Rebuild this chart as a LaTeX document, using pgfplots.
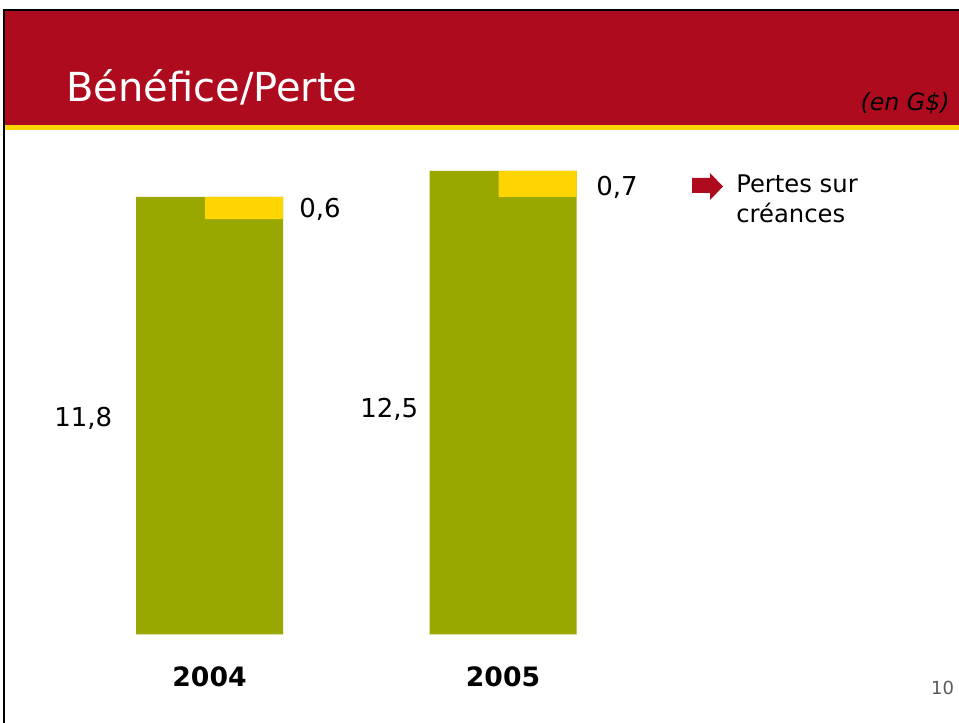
\documentclass[border=0pt]{standalone}
\usepackage{pgfplots}
\pgfplotsset{compat=1.18}
\usepackage{fontspec}
\setmainfont{DejaVu Sans}
\definecolor{hdrred}{RGB}{174,12,30}
\definecolor{hdryel}{RGB}{255,212,0}
\definecolor{bargreen}{RGB}{152,168,0}
\definecolor{baryel}{RGB}{255,213,0}
\begin{document}
\begin{tikzpicture}
\path[use as bounding box] (0,0) rectangle (719.25pt,542.25pt);
\begin{scope}[x=0.75pt,y=-0.75pt,yshift=542.25pt]
  % header
  \fill[hdrred] (5,11) rectangle (959,125.5);
  \fill[hdryel] (5,125.5) rectangle (959,130.5);
  \fill[black] (3,9) rectangle (959,11);
  \fill[black] (3,9) rectangle (5,723);
  \node[anchor=base west, text=white, font=\fontsize{30pt}{33pt}\selectfont, inner sep=0] at (66,102) {Bénéfice/Perte};
  \node[anchor=base east, font=\fontsize{17.8pt}{20pt}\selectfont\itshape, inner sep=0] at (950,111) {(en G\$)};
\end{scope}
\begin{axis}[at={(0,0)}, anchor=south west, scale only axis,
  width=719.25pt, height=542.25pt,
  xmin=0, xmax=959, ymin=-2.387, ymax=17.112,
  hide axis, clip=false, ybar, bar width=147]
  \addplot[fill=bargreen, draw=none] coordinates {(209.5,11.8) (503,12.5)};
\end{axis}
\begin{axis}[at={(0,0)}, anchor=south west, scale only axis,
  width=719.25pt, height=542.25pt,
  xmin=0, xmax=959, ymin=-2.387, ymax=17.112,
  hide axis, clip=false, ybar stacked, bar width=78]
  \addplot[draw=none, fill=none] coordinates {(244,11.2) (537.5,11.8)};
  \addplot[fill=baryel, draw=none] coordinates {(244,0.6) (537.5,0.7)};
\end{axis}
\begin{scope}[x=0.75pt,y=-0.75pt,yshift=542.25pt]
  \tikzset{lab/.style={font=\fontsize{19.5pt}{22pt}\selectfont, inner sep=0}}
  \node[lab, anchor=west] at (54,418) {11,8};
  \node[lab, anchor=west] at (360,409) {12,5};
  \node[lab, anchor=west] at (299,209) {0,6};
  \node[lab, anchor=west] at (596,187) {0,7};
  \node[font=\bfseries\fontsize{20pt}{22pt}\selectfont, inner sep=0] at (209.5,677) {2004};
  \node[font=\bfseries\fontsize{20pt}{22pt}\selectfont, inner sep=0] at (503,677) {2005};
  \fill[hdrred] (692,178) -- (710,178) -- (710,173) -- (723,186.5) -- (710,200) -- (710,193) -- (692,193) -- cycle;
  \node[anchor=north west, align=left, font=\fontsize{18.2pt}{22.5pt}\selectfont, inner sep=0] at (736,175) {Pertes sur\\créances};
  \node[text=black!65, font=\fontsize{13.5pt}{15pt}\selectfont, inner sep=0] at (942.5,688) {10};
\end{scope}
\end{tikzpicture}
\end{document}
